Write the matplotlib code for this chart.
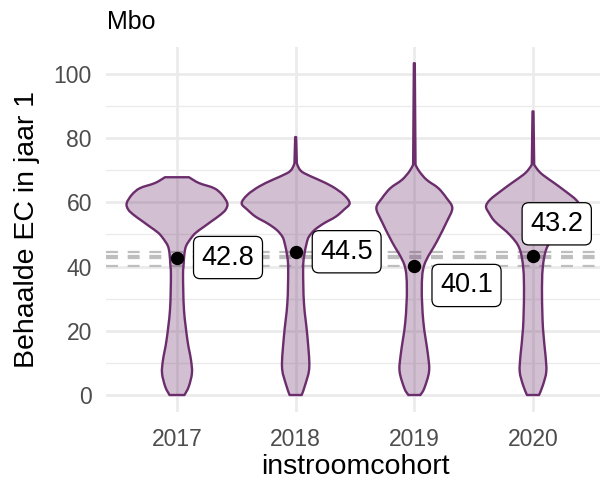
import numpy as np
import matplotlib
matplotlib.use("Agg")
import matplotlib.pyplot as plt
from matplotlib.path import Path
from matplotlib.patches import PathPatch

plt.rcParams['font.family'] = ['Liberation Sans', 'DejaVu Sans']
plt.rcParams['lines.scale_dashes'] = False

cohorten = ["2017", "2018", "2019", "2020"]
gemiddelden = [42.8, 44.5, 40.1, 43.2]

# violin outlines: EC value and half width (in cohort units)
ec_2017 = [0, 2.6, 6.8, 10.9, 17.1, 26.5, 36.9, 40, 44.1, 46.5, 48.8, 50.5, 52.4, 54.2, 56, 57.7, 59.7, 62.4, 64.4, 66, 67.8]
breedte_2017 = [0.063, 0.099, 0.126, 0.118, 0.088, 0.059, 0.051, 0.055, 0.063, 0.078, 0.118, 0.158, 0.228, 0.295,
                0.362, 0.410, 0.424, 0.379, 0.312, 0.185, 0.101]

ec_2018 = [0, 3.6, 8.8, 18.2, 28.6, 38.9, 43, 47.3, 49.3, 51.4, 53.4, 55.5, 57.7, 59.7, 62.3, 64.9, 67, 69.1, 70.5, 72.2, 80.3]
breedte_2018 = [0.051, 0.084, 0.115, 0.099, 0.070, 0.063, 0.070, 0.093, 0.112, 0.160, 0.236, 0.337, 0.407, 0.455,
                0.407, 0.309, 0.194, 0.070, 0.029, 0.010, 0.004]

ec_2019 = [0, 2.1, 7.3, 12.5, 22.8, 33.2, 40.5, 47.8, 54, 58.2, 61.3, 64.4, 67, 69.6, 71.7, 103.3]
breedte_2019 = [0.051, 0.084, 0.124, 0.115, 0.076, 0.063, 0.084, 0.190, 0.274, 0.320, 0.272, 0.202, 0.104, 0.042,
                0.010, 0.004]

ec_2020 = [0, 3.1, 7.3, 12.5, 20.8, 31.2, 39.5, 45.7, 49.8, 54, 56.5, 58.7, 60.8, 63.3, 66, 68.5, 70, 71.7, 88.3]
breedte_2020 = [0.051, 0.084, 0.112, 0.105, 0.084, 0.076, 0.082, 0.115, 0.194, 0.320, 0.368, 0.396, 0.362, 0.278,
                0.179, 0.084, 0.042, 0.010, 0.004]

violen = [(ec_2017, breedte_2017), (ec_2018, breedte_2018), (ec_2019, breedte_2019), (ec_2020, breedte_2020)]

# label placement (repelled like ggrepel)
label_dx = [0.43, 0.43, 0.44, 0.20]
label_y = [42.8, 44.6, 34.1, 53.3]

paars = '#6B2D6C'


def smooth_side(pts):
    """Bezier segments (Catmull-Rom style) through the given outline points."""
    pts = np.asarray(pts, dtype=float)
    ext = np.vstack([pts[0], pts, pts[-1]])
    verts, codes = [], []
    for i in range(len(pts) - 1):
        p0, p1, p2, p3 = ext[i], ext[i + 1], ext[i + 2], ext[i + 3]
        c1 = p1 + (p2 - p0) / 6.0
        c2 = p2 - (p3 - p1) / 6.0
        verts += [c1, c2, p2]
        codes += [Path.CURVE4] * 3
    return verts, codes


def violin_path(x, ec, br):
    ec = np.array(ec)
    br = np.array(br)
    # the long thin tail at the top is drawn as a straight spike
    spike = (ec[-1] - ec[-2]) > 6
    n = len(ec) - 1 if spike else len(ec)
    links = np.column_stack([x - br[:n], ec[:n]])
    rechts = np.column_stack([x + br[:n], ec[:n]])[::-1]
    verts = [links[0]]
    codes = [Path.MOVETO]
    v, c = smooth_side(links)
    verts += v
    codes += c
    if spike:
        verts += [(x - br[-1], ec[-1]), (x + br[-1], ec[-1])]
        codes += [Path.LINETO, Path.LINETO]
    verts.append(rechts[0])
    codes.append(Path.LINETO)
    v, c = smooth_side(rechts)
    verts += v
    codes += c
    verts.append(links[0])
    codes.append(Path.CLOSEPOLY)
    return Path(verts, codes)


fig = plt.figure(figsize=(6, 4.83), dpi=100)
ax = fig.add_axes([0.1763, 0.1478, 0.8307, 0.7559])

ax.set_xlim(0.4, 4.6)
ax.set_ylim(-5.17, 108.5)

# grid like theme_minimal
for v in range(0, 101, 20):
    ax.axhline(v, color='#EBEBEB', lw=1.95, zorder=0)
for v in range(10, 100, 20):
    ax.axhline(v, color='#EBEBEB', lw=1.0, zorder=0)
for i in range(len(cohorten)):
    ax.axvline(i + 1, color='#EBEBEB', lw=1.95, zorder=0)

# dashed lines at each cohort mean
for m in gemiddelden:
    ax.axhline(m, color='#BEBEBE', lw=1.6, linestyle=(0, (8.6, 7.0)), zorder=1)

for i, (ec, br) in enumerate(violen):
    pad = violin_path(i + 1, ec, br)
    ax.add_patch(PathPatch(pad, facecolor=paars, alpha=0.3, edgecolor='none', zorder=2))
    ax.add_patch(PathPatch(pad, facecolor='none', edgecolor=paars, lw=1.7, joinstyle='round', zorder=3))

xpos = np.arange(1, len(cohorten) + 1)
ax.plot(xpos, gemiddelden, 'o', color='black', markersize=8.6, zorder=4)

for i, m in enumerate(gemiddelden):
    ax.text(xpos[i] + label_dx[i], label_y[i], f"{m:.1f}", fontsize=19.5, ha='center', va='center',
            zorder=5, bbox=dict(boxstyle='round,pad=0.3,rounding_size=0.25', facecolor='white',
                                edgecolor='black', lw=0.9))

ax.set_xticks(xpos)
ax.set_xticklabels(cohorten)
ax.set_yticks(range(0, 101, 20))
ax.tick_params(axis='both', length=0, labelsize=16.5, labelcolor='#4D4D4D')
ax.tick_params(axis='x', pad=12)
ax.tick_params(axis='y', pad=10)
for s in ax.spines.values():
    s.set_visible(False)

ax.set_xlabel("instroomcohort", fontsize=20.5, labelpad=2)
ax.set_ylabel("Behaalde EC in jaar 1", fontsize=20.5, labelpad=10)
fig.text(0.1783, 0.94, "Mbo", fontsize=18, ha='left', va='baseline')

fig.savefig("out.png", dpi=100)
